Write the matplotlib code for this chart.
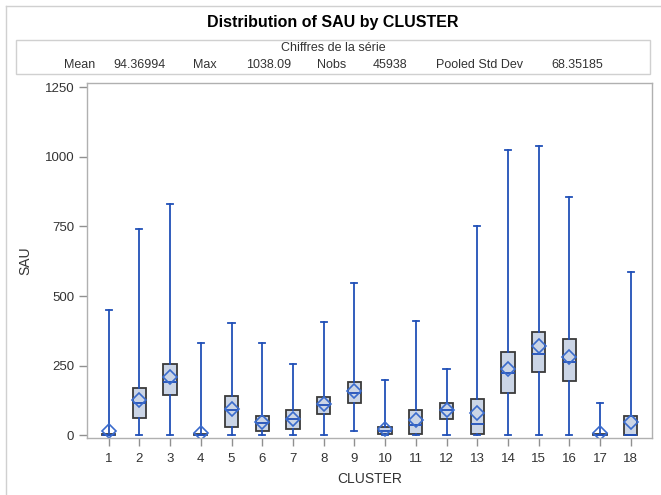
import matplotlib
matplotlib.use("Agg")
import matplotlib.pyplot as plt
from matplotlib.patches import Rectangle
from matplotlib.lines import Line2D

plt.rcParams['font.family'] = ['Liberation Sans', 'DejaVu Sans']

# Summary statistics of SAU for each cluster
clusters = list(range(1, 19))
whisker_low = [0, 0, 0, 0, 0, 0, 0, 2, 14, 0, 0, 0, 0, 0, 0, 0, 0, 0]
q1 = [0, 62, 145, 0, 30, 14, 21, 78, 115, 5, 3, 57, 3, 151, 229, 195, 0, 1]
median = [1, 117, 190, 2, 91, 45, 57, 108, 153, 17, 37, 90, 42, 224, 292, 264, 1, 2]
q3 = [3, 171, 255, 5, 141, 70, 90, 136, 193, 30, 90, 115, 129, 299, 370, 345, 3, 69]
whisker_high = [449, 740, 830, 333, 403, 333, 255, 407, 546, 200, 412, 237, 752, 1026, 1038.09, 855, 117, 588]
means = [16, 127, 208, 9, 93, 47, 59, 112, 160, 21, 55, 90, 79, 237, 322, 281, 8, 49]

y_ticks = [0, 250, 500, 750, 1000, 1250]

header_title = "Chiffres de la série"
header_items = [("Mean", 80), ("94.36994", 140), ("Max", 205), ("1038.09", 269),
                ("Nobs", 332), ("45938", 390), ("Pooled Std Dev", 480), ("68.35185", 577)]

W, H = 661, 495
fig = plt.figure(figsize=(W / 100, H / 100), dpi=100)

# outer frame lines
fig.add_artist(Line2D([5.5 / W, 5.5 / W], [0, 1 - 5.5 / H], color="#d0d0d0", lw=1.0))
fig.add_artist(Line2D([5.5 / W, 1], [1 - 5.5 / H, 1 - 5.5 / H], color="#d0d0d0", lw=1.0))

fig.text(333 / W, 1 - 22 / H, "Distribution of SAU by CLUSTER", ha="center", va="center",
         fontsize=11.5, fontweight="bold", color="#000000")

# statistics header box
fig.add_artist(Rectangle((16 / W, 1 - 74 / H), (650 - 16) / W, 34 / H, transform=fig.transFigure,
                         fill=False, edgecolor="#d0d0d0", lw=1.0))
fig.text(333 / W, 1 - 48 / H, header_title, ha="center", va="center", fontsize=9, color="#333333")
for txt, xc in header_items:
    fig.text(xc / W, 1 - 65.5 / H, txt, ha="center", va="center", fontsize=9, color="#333333")

ax = fig.add_axes([86.7 / W, 1 - 437.7 / H, (652.3 - 86.7) / W, (437.7 - 82.7) / H])

stats = []
for i, c in enumerate(clusters):
    stats.append(dict(label=str(c), whislo=whisker_low[i], q1=q1[i], med=median[i],
                      q3=q3[i], whishi=whisker_high[i], mean=means[i]))

blue = "#2150b8"
ax.bxp(stats, positions=clusters, widths=0.43, patch_artist=True, showmeans=True,
       showfliers=False,
       boxprops=dict(facecolor="#cbd5e6", edgecolor="#3a3a3a", lw=1.3),
       whiskerprops=dict(color=blue, lw=1.3),
       capprops=dict(color=blue, lw=1.3),
       capwidths=0.2,
       medianprops=dict(color=blue, lw=1.3),
       meanprops=dict(marker="D", markersize=7.5, markerfacecolor="none",
                      markeredgecolor="#3a6bcc", markeredgewidth=1.2))

ax.set_xlim(0.285, 18.7)
ax.set_ylim(-8.6, 1266)
ax.set_yticks(y_ticks)
ax.set_xticks(clusters)
ax.set_xticklabels([str(c) for c in clusters])
for s in ax.spines.values():
    s.set_color("#b0b0b0")
    s.set_linewidth(1.0)
ax.tick_params(axis="both", colors="#909090", labelcolor="#333333", labelsize=9.5,
               length=6, width=1.0, pad=3)
ax.tick_params(axis="x", pad=5)
ax.set_xlabel("CLUSTER", fontsize=10, color="#333333", labelpad=5)
ax.set_ylabel("SAU", fontsize=10, color="#333333", labelpad=9)

fig.savefig("out.png", dpi=100)
